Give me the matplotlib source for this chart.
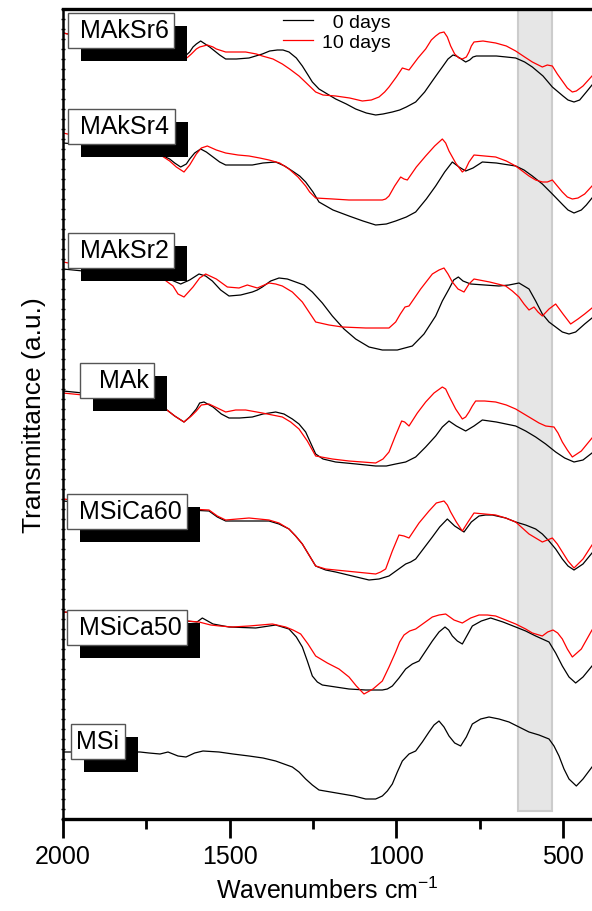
import matplotlib
matplotlib.use("Agg")
import matplotlib.pyplot as plt
from matplotlib.ticker import MultipleLocator, FixedLocator
from matplotlib.patheffects import SimplePatchShadow, Normal

plt.rcParams['font.family'] = ['Liberation Sans', 'DejaVu Sans']
plt.rcParams['mathtext.fontset'] = 'custom'
plt.rcParams['mathtext.rm'] = 'Liberation Sans'

# spectra (wavenumber, transmittance a.u. incl. stacking offset)
wn_maksr6_0 = [2000, 1750, 1700, 1660, 1640, 1620, 1610, 1600, 1587, 1560, 1530, 1512, 1480, 1442, 1402, 1380, 1357, 1340, 1322, 1300, 1282, 1265, 1252, 1232, 1182, 1150, 1122, 1090, 1062, 1040, 1012, 990, 970, 942, 915, 892, 875, 862, 845, 830, 820, 810, 792, 780, 770, 760, 742, 700, 670, 642, 615, 592, 560, 532, 500, 485, 467, 450, 430, 413]
t_maksr6_0 = [786, 770, 763, 762, 761, 767, 772, 775, 778, 772, 764, 760, 760, 761, 765, 768, 769, 769, 767, 761, 753, 744, 737, 730, 720, 715, 710, 706, 704, 705, 707, 709, 712, 717, 727, 738, 746, 752, 760, 764, 763, 761, 757, 759, 762, 763, 763, 763, 762, 761, 757, 752, 743, 732, 723, 719, 717, 719, 727, 734]
wn_maksr6_10 = [2000, 1750, 1700, 1660, 1637, 1625, 1615, 1600, 1590, 1567, 1550, 1540, 1512, 1480, 1452, 1420, 1402, 1370, 1342, 1320, 1292, 1270, 1242, 1220, 1182, 1140, 1102, 1075, 1052, 1035, 1022, 1000, 982, 962, 935, 912, 895, 882, 870, 857, 847, 837, 825, 812, 802, 790, 782, 775, 767, 740, 702, 670, 642, 615, 592, 562, 547, 532, 517, 502, 487, 472, 460, 440, 413]
t_maksr6_10 = [786, 770, 763, 761, 759, 762, 765, 770, 772, 774, 772, 770, 767, 767, 767, 765, 763, 760, 755, 750, 743, 736, 727, 724, 723, 721, 718, 719, 722, 727, 732, 742, 751, 749, 761, 770, 779, 783, 786, 787, 782, 773, 765, 761, 760, 762, 767, 773, 777, 778, 776, 773, 768, 762, 757, 752, 754, 753, 745, 738, 731, 727, 728, 733, 743]

wn_maksr4_0 = [2000, 1850, 1712, 1680, 1665, 1647, 1630, 1620, 1605, 1587, 1570, 1550, 1530, 1512, 1470, 1432, 1400, 1362, 1335, 1312, 1290, 1272, 1250, 1232, 1190, 1142, 1100, 1062, 1030, 1002, 970, 942, 910, 882, 855, 832, 812, 792, 770, 742, 700, 642, 617, 592, 562, 532, 500, 485, 467, 445, 430, 413]
t_maksr4_0 = [676, 672, 665, 660, 656, 652, 655, 660, 666, 670, 667, 662, 657, 654, 654, 654, 656, 657, 653, 648, 643, 637, 627, 617, 609, 603, 598, 594, 595, 598, 602, 607, 620, 633, 647, 657, 652, 648, 651, 657, 656, 653, 649, 643, 635, 625, 614, 609, 606, 609, 614, 621]
wn_maksr4_10 = [2000, 1850, 1712, 1680, 1660, 1637, 1620, 1600, 1585, 1567, 1540, 1512, 1475, 1442, 1410, 1382, 1350, 1322, 1295, 1272, 1260, 1242, 1190, 1142, 1090, 1042, 1032, 1022, 1005, 987, 977, 967, 940, 912, 885, 862, 852, 842, 822, 802, 792, 782, 767, 735, 702, 670, 642, 622, 602, 582, 562, 547, 532, 517, 502, 487, 472, 455, 435, 413]
t_maksr4_10 = [686, 675, 665, 658, 652, 647, 654, 665, 671, 673, 669, 666, 664, 663, 661, 659, 656, 650, 642, 633, 627, 621, 620, 619, 619, 619, 620, 623, 633, 642, 640, 639, 652, 663, 673, 680, 676, 668, 656, 647, 650, 657, 664, 663, 662, 658, 653, 648, 643, 639, 637, 637, 639, 633, 627, 622, 620, 621, 625, 633]

wn_maksr2_0 = [2000, 1850, 1707, 1675, 1647, 1620, 1592, 1572, 1552, 1527, 1502, 1467, 1432, 1417, 1402, 1377, 1352, 1327, 1302, 1277, 1252, 1222, 1192, 1157, 1122, 1082, 1042, 997, 952, 917, 882, 862, 842, 828, 814, 800, 777, 735, 692, 662, 632, 602, 582, 562, 542, 522, 502, 482, 462, 435, 413]
t_maksr2_0 = [550, 545, 542, 539, 535, 539, 545, 543, 538, 529, 523, 524, 527, 529, 532, 538, 541, 540, 537, 534, 527, 516, 503, 490, 480, 472, 469, 469, 473, 485, 503, 518, 530, 539, 542, 538, 535, 534, 533, 534, 536, 530, 518, 505, 497, 492, 487, 485, 487, 495, 501]
wn_maksr2_10 = [2000, 1850, 1707, 1670, 1655, 1637, 1610, 1590, 1572, 1540, 1507, 1472, 1447, 1417, 1382, 1362, 1342, 1312, 1282, 1262, 1242, 1202, 1162, 1092, 1022, 1002, 988, 974, 962, 927, 892, 872, 857, 845, 832, 815, 797, 782, 767, 720, 672, 652, 632, 617, 602, 587, 575, 562, 542, 522, 500, 477, 455, 435, 413]
t_maksr2_10 = [557, 548, 542, 533, 525, 522, 532, 541, 545, 540, 532, 531, 534, 531, 536, 535, 533, 527, 517, 507, 497, 494, 492, 491, 491, 497, 505, 512, 513, 530, 545, 549, 551, 545, 537, 530, 527, 535, 540, 537, 533, 528, 522, 515, 509, 512, 507, 503, 510, 515, 505, 495, 500, 505, 511]

wn_mak_0 = [2000, 1850, 1692, 1665, 1637, 1620, 1600, 1590, 1577, 1550, 1525, 1502, 1470, 1432, 1400, 1362, 1337, 1312, 1292, 1272, 1257, 1242, 1220, 1182, 1120, 1062, 1030, 1002, 972, 942, 912, 882, 862, 842, 820, 792, 767, 742, 700, 642, 612, 582, 552, 522, 495, 467, 440, 413]
t_mak_0 = [428, 423, 410, 403, 397, 402, 410, 416, 417, 412, 405, 401, 401, 402, 405, 407, 405, 400, 395, 387, 376, 365, 360, 357, 355, 353, 353, 355, 357, 362, 372, 383, 392, 398, 393, 388, 393, 399, 397, 393, 388, 382, 375, 367, 361, 357, 359, 366]
wn_mak_10 = [2000, 1850, 1692, 1665, 1637, 1615, 1600, 1585, 1562, 1537, 1512, 1482, 1452, 1402, 1372, 1342, 1317, 1292, 1267, 1242, 1192, 1142, 1102, 1062, 1040, 1022, 1003, 984, 975, 962, 937, 912, 887, 862, 852, 842, 822, 802, 792, 782, 772, 762, 735, 702, 670, 642, 617, 592, 572, 552, 527, 515, 502, 487, 472, 445, 413]
t_mak_10 = [426, 421, 410, 403, 397, 403, 408, 414, 415, 411, 407, 409, 409, 406, 404, 402, 397, 390, 378, 363, 360, 358, 357, 356, 360, 367, 383, 398, 397, 393, 406, 417, 426, 432, 430, 423, 410, 400, 402, 407, 413, 418, 418, 417, 414, 410, 405, 400, 396, 393, 392, 386, 377, 369, 362, 368, 381]

wn_msica60_0 = [2000, 1800, 1562, 1537, 1512, 1442, 1412, 1382, 1352, 1322, 1302, 1282, 1262, 1242, 1212, 1182, 1132, 1082, 1052, 1022, 997, 972, 957, 942, 917, 892, 870, 847, 825, 797, 775, 752, 732, 712, 672, 642, 612, 582, 562, 542, 522, 502, 485, 467, 440, 413]
t_msica60_0 = [318, 312, 308, 302, 298, 298, 298, 298, 295, 290, 283, 275, 264, 253, 249, 247, 243, 239, 240, 243, 249, 255, 257, 260, 271, 282, 292, 300, 293, 287, 297, 303, 304, 304, 301, 297, 294, 290, 285, 278, 270, 260, 253, 249, 255, 266]
wn_msica60_10 = [2000, 1800, 1562, 1537, 1512, 1442, 1412, 1382, 1352, 1322, 1302, 1282, 1262, 1242, 1212, 1182, 1122, 1062, 1047, 1032, 1012, 992, 977, 962, 932, 902, 880, 857, 847, 837, 820, 802, 785, 767, 735, 702, 672, 642, 622, 602, 582, 562, 547, 532, 517, 502, 485, 467, 440, 413]
t_msica60_10 = [320, 313, 309, 303, 299, 301, 300, 299, 296, 290, 283, 275, 264, 253, 250, 249, 247, 245, 247, 250, 268, 284, 283, 281, 296, 308, 316, 318, 314, 307, 297, 288, 297, 306, 305, 304, 301, 297, 291, 285, 281, 277, 279, 281, 275, 267, 258, 251, 260, 274]

wn_msica50_0 = [2000, 1800, 1598, 1582, 1550, 1502, 1422, 1362, 1322, 1300, 1282, 1267, 1252, 1237, 1222, 1182, 1142, 1092, 1042, 1027, 1012, 992, 972, 952, 932, 912, 892, 872, 854, 843, 832, 817, 802, 787, 772, 745, 717, 680, 642, 612, 582, 562, 542, 522, 502, 482, 462, 440, 413]
t_msica50_0 = [207, 203, 197, 201, 195, 192, 191, 194, 190, 182, 172, 158, 143, 137, 134, 132, 130, 129, 129, 130, 133, 141, 150, 155, 158, 168, 178, 187, 192, 189, 183, 178, 175, 184, 193, 198, 201, 197, 192, 188, 183, 180, 177, 166, 153, 142, 136, 142, 153]
wn_msica50_10 = [2000, 1800, 1592, 1557, 1530, 1492, 1442, 1372, 1332, 1310, 1287, 1265, 1242, 1207, 1172, 1142, 1120, 1097, 1070, 1042, 1022, 1002, 990, 977, 960, 942, 917, 892, 872, 852, 827, 802, 777, 752, 727, 702, 672, 642, 612, 592, 562, 546, 530, 516, 502, 487, 472, 445, 413]
t_msica50_10 = [207, 203, 197, 194, 193, 192, 193, 195, 192, 189, 185, 175, 163, 156, 150, 142, 133, 125, 130, 138, 152, 167, 177, 184, 188, 190, 196, 202, 204, 205, 199, 196, 201, 204, 204, 203, 199, 195, 190, 186, 183, 187, 189, 186, 180, 170, 162, 170, 189]

wn_msi = [2000, 1769, 1742, 1709, 1685, 1655, 1631, 1605, 1580, 1532, 1490, 1442, 1400, 1362, 1337, 1312, 1292, 1272, 1252, 1232, 1197, 1162, 1127, 1092, 1062, 1042, 1027, 1012, 997, 982, 962, 942, 922, 902, 887, 872, 857, 842, 825, 807, 790, 772, 747, 722, 692, 662, 632, 602, 572, 542, 527, 512, 497, 482, 460, 440, 413]
t_msi = [67, 67, 66, 65, 67, 63, 62, 66, 68, 67, 65, 63, 61, 58, 55, 52, 47, 40, 34, 29, 27, 25, 23, 20, 20, 23, 28, 35, 47, 58, 65, 68, 77, 87, 94, 98, 92, 83, 76, 73, 82, 95, 100, 102, 100, 97, 92, 87, 84, 80, 73, 63, 50, 40, 33, 40, 52]

pairs = [
    (wn_maksr6_0, t_maksr6_0, wn_maksr6_10, t_maksr6_10),
    (wn_maksr4_0, t_maksr4_0, wn_maksr4_10, t_maksr4_10),
    (wn_maksr2_0, t_maksr2_0, wn_maksr2_10, t_maksr2_10),
    (wn_mak_0, t_mak_0, wn_mak_10, t_mak_10),
    (wn_msica60_0, t_msica60_0, wn_msica60_10, t_msica60_10),
    (wn_msica50_0, t_msica50_0, wn_msica50_10, t_msica50_10),
]

# sample labels: name, left wavenumber, level
labels = [" MAkSr6", " MAkSr4", " MAkSr2", "  MAk", " MSiCa60", " MSiCa50", "MSi"]
label_x = [1970, 1970, 1970, 1934, 1973, 1973, 1961]
label_y = [789, 693, 569, 439, 308, 192, 78]

fig = plt.figure(figsize=(5.92, 9.12), dpi=100)
ax = fig.add_axes([63/592, 92/912, 529/592, 810/912])

ax.axvspan(635, 533, ymin=0.01, ymax=1, facecolor='#e6e6e6', edgecolor='#cccccc', lw=1.5, zorder=0)

for i, (w0, y0, w1, y1) in enumerate(pairs):
    ax.plot(w0, y0, color='black', lw=0.9, zorder=2, label='  0 days' if i == 0 else None)
    ax.plot(w1, y1, color='red', lw=0.9, zorder=2, label='10 days' if i == 0 else None)
ax.plot(wn_msi, t_msi, color='black', lw=0.9, zorder=2)

for name, x, y in zip(labels, label_x, label_y):
    t = ax.text(x, y, name, fontsize=18, ha='left', va='center', color='black',
                bbox=dict(boxstyle='square,pad=0.22', fc='white', ec='#555555', lw=1), zorder=6)
    t.get_bbox_patch().set_path_effects([
        SimplePatchShadow(offset=(9.4, -9.4), shadow_rgbFace='black', alpha=1), Normal()])

ax.set_xlim(2000, 413)
ax.set_ylim(0, 810)

ax.xaxis.set_major_locator(FixedLocator([2000, 1500, 1000, 500]))
ax.xaxis.set_minor_locator(FixedLocator([1750, 1250, 750]))
ax.tick_params(axis='x', which='major', direction='out', length=14, width=2, labelsize=18, pad=4)
ax.tick_params(axis='x', which='minor', direction='out', length=7, width=2)
ax.yaxis.set_major_locator(MultipleLocator(10))
ax.tick_params(axis='y', which='major', direction='inout', length=3, width=1, labelleft=False)

ax.spines['left'].set_linewidth(1.8)
for s in ['top', 'bottom']:
    ax.spines[s].set_linewidth(2.4)
ax.spines['right'].set_visible(False)

ax.set_xlabel('Wavenumbers cm$^{-1}$', fontsize=18, labelpad=6)
ax.set_ylabel('Transmittance (a.u.)', fontsize=19, labelpad=11)

ax.legend(loc='upper left', bbox_to_anchor=(0.391, 1.012), frameon=False, fontsize=14,
          handlelength=1.5, handletextpad=0.5, labelspacing=0.15, borderpad=0.2)

fig.savefig('out.png', dpi=100)
